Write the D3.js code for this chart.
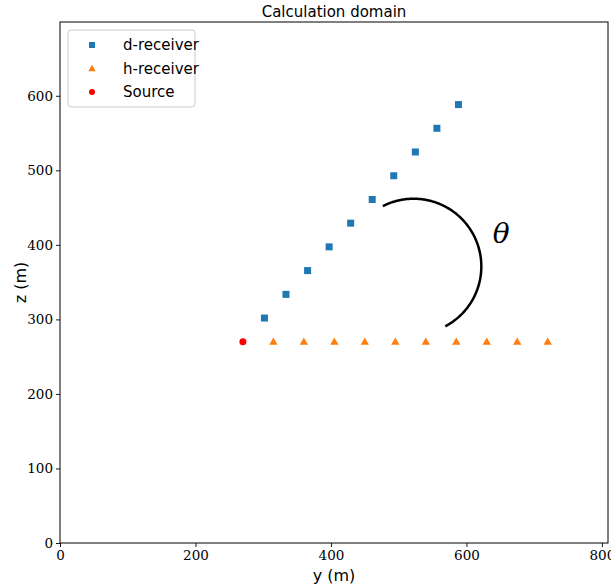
<!DOCTYPE html>
<html>
<head>
<meta charset="utf-8">
<script src="https://cdn.jsdelivr.net/npm/d3@7"></script>
<style>
  body { margin: 0; background: #fff; }
  svg { display: block; }
</style>
</head>
<body>
<svg id="chart" width="611" height="588"></svg>
<script>
// ---- data ----
const source = [{ y: 270, z: 270 }];
const hReceiverY = [315, 360, 405, 450, 495, 540, 585, 630, 675, 720];
const hReceiverZ = [270, 270, 270, 270, 270, 270, 270, 270, 270, 270];
const dReceiverY = [301.8, 333.6, 365.5, 397.3, 429.1, 460.9, 492.7, 524.6, 556.4, 588.2];
const dReceiverZ = [301.8, 333.6, 365.5, 397.3, 429.1, 460.9, 492.7, 524.6, 556.4, 588.2];
const xTicks = [0, 200, 400, 600, 800];
const yTicks = [0, 100, 200, 300, 400, 500, 600];
const arcCenter = { y: 522, z: 371 };
const arcRadiusY = 100;           // radius in y-units
const arcAngles = [-62, 117];     // degrees
const thetaPos = { y: 639, z: 402 };

const svg = d3.select("#chart");
const m = { left: 60, right: 3, top: 22, bottom: 45 };
const W = 611, H = 588;
const x = d3.scaleLinear().domain([0, 809]).range([m.left, W - m.right]);
const y = d3.scaleLinear().domain([0, 699]).range([H - m.bottom, m.top]);

const serif = "'DejaVu Serif', 'Liberation Serif', serif";
const sans = "'DejaVu Sans', 'Noto Sans', sans-serif";

// axes
const xAxis = d3.axisBottom(x).tickValues(xTicks).tickSize(4).tickPadding(3).tickFormat(d3.format("d"));
const yAxis = d3.axisLeft(y).tickValues(yTicks).tickSize(4).tickPadding(3).tickFormat(d3.format("d"));
const gx = svg.append("g").attr("transform", `translate(0,${H - m.bottom})`).call(xAxis);
const gy = svg.append("g").attr("transform", `translate(${m.left},0)`).call(yAxis);
[gx, gy].forEach(g => {
  g.select(".domain").remove();
  g.selectAll("line").attr("stroke", "#000").attr("stroke-width", 0.9);
  g.selectAll("text").attr("font-family", serif).attr("font-size", 13.5).attr("fill", "#000");
});

// frame
svg.append("rect").attr("x", m.left).attr("y", m.top)
  .attr("width", W - m.right - m.left).attr("height", H - m.bottom - m.top)
  .attr("fill", "none").attr("stroke", "#000").attr("stroke-width", 1);

// d-receivers
const dData = dReceiverY.map((v, i) => ({ y: v, z: dReceiverZ[i] }));
svg.append("g").selectAll("rect").data(dData).join("rect")
  .attr("x", d => x(d.y) - 3.5).attr("y", d => y(d.z) - 3.5)
  .attr("width", 7).attr("height", 7).attr("fill", "#1f77b4");

// h-receivers
const hData = hReceiverY.map((v, i) => ({ y: v, z: hReceiverZ[i] }));
const tri = d3.symbol().type(d3.symbolTriangle).size(30);
svg.append("g").selectAll("path").data(hData).join("path")
  .attr("d", tri).attr("transform", d => `translate(${x(d.y)},${y(d.z) + 0.5})`)
  .attr("fill", "#ff7f0e");

// source
svg.append("g").selectAll("circle").data(source).join("circle")
  .attr("cx", d => x(d.y)).attr("cy", d => y(d.z)).attr("r", 3.5).attr("fill", "#ff0000");

// arc
const rPx = x(arcRadiusY) - x(0);
const cx = x(arcCenter.y), cy = y(arcCenter.z);
const angs = d3.range(arcAngles[0], arcAngles[1] + 0.5, 1);
const arcPts = angs.map(a => [cx + rPx * Math.cos(a * Math.PI / 180), cy - rPx * Math.sin(a * Math.PI / 180)]);
svg.append("path").attr("d", d3.line()(arcPts)).attr("fill", "none")
  .attr("stroke", "#000").attr("stroke-width", 2.5);

svg.append("text").attr("x", x(thetaPos.y)).attr("y", y(thetaPos.z))
  .attr("font-family", serif).attr("font-style", "italic").attr("font-size", 28)
  .text("θ");

// title and labels
svg.append("text").attr("x", (m.left + W - m.right) / 2).attr("y", 17)
  .attr("text-anchor", "middle").attr("font-family", sans).attr("font-size", 15).text("Calculation domain");
svg.append("text").attr("x", (m.left + W - m.right) / 2).attr("y", 581)
  .attr("text-anchor", "middle").attr("font-family", sans).attr("font-size", 16).text("y (m)");
svg.append("text").attr("transform", `translate(26,${(m.top + H - m.bottom) / 2}) rotate(-90)`)
  .attr("text-anchor", "middle").attr("font-family", sans).attr("font-size", 16).text("z (m)");

// legend
const lg = svg.append("g");
lg.append("rect").attr("x", 68).attr("y", 30).attr("width", 127).attr("height", 77)
  .attr("rx", 3).attr("fill", "#fff").attr("stroke", "#ccc").attr("stroke-width", 1);
const items = [
  { label: "d-receiver", type: "square", color: "#1f77b4" },
  { label: "h-receiver", type: "tri", color: "#ff7f0e" },
  { label: "Source", type: "circle", color: "#ff0000" }
];
items.forEach((it, i) => {
  const yy = 45 + i * 23.5;
  if (it.type === "square") lg.append("rect").attr("x", 89).attr("y", yy - 3).attr("width", 6).attr("height", 6).attr("fill", it.color);
  else if (it.type === "tri") lg.append("path").attr("d", d3.symbol().type(d3.symbolTriangle).size(24)()).attr("transform", `translate(92,${yy + 0.5})`).attr("fill", it.color);
  else lg.append("circle").attr("cx", 92).attr("cy", yy).attr("r", 3).attr("fill", it.color);
  lg.append("text").attr("x", 123).attr("y", yy + 5).attr("font-family", sans).attr("font-size", 15).text(it.label);
});
</script>
</body>
</html>
